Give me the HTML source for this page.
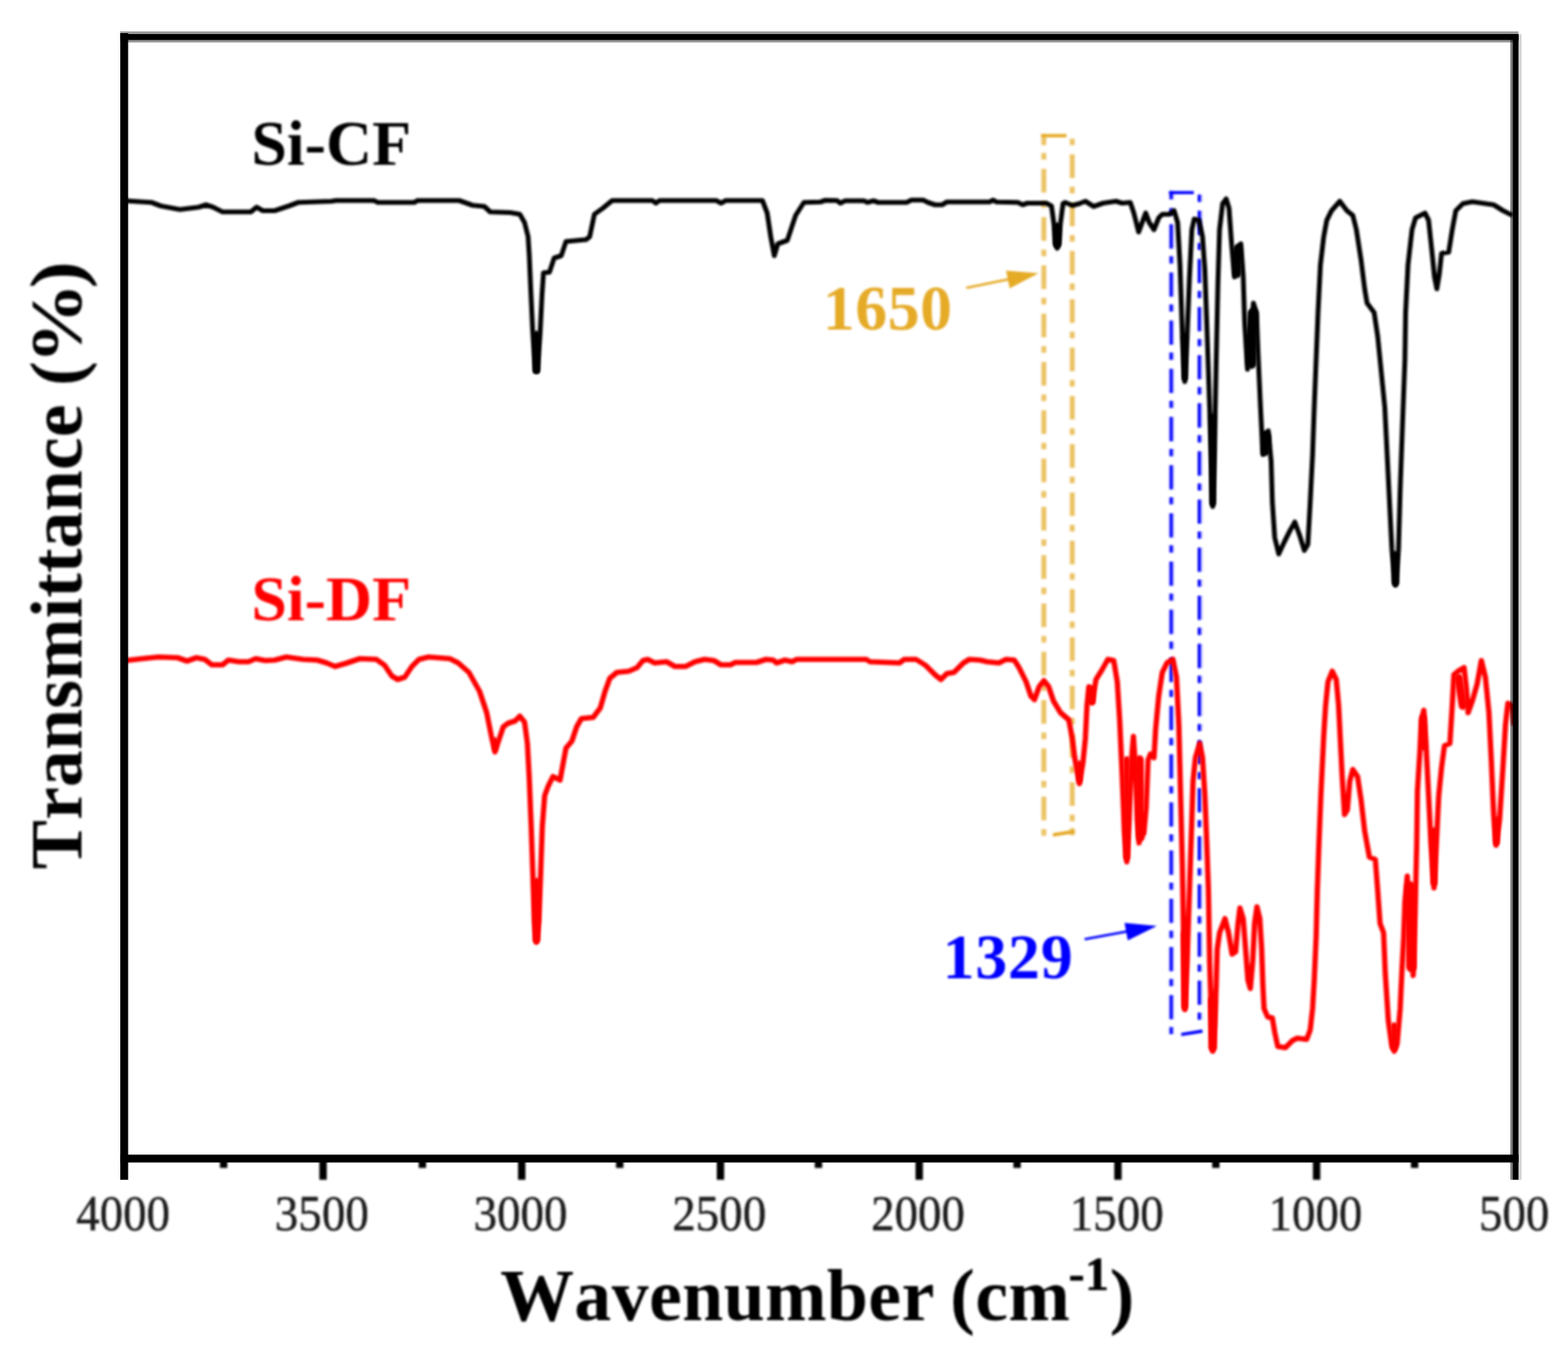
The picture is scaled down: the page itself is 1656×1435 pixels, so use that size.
<!DOCTYPE html>
<html lang="en"><head><meta charset="utf-8"><title>FTIR spectra of Si-CF and Si-DF</title>
<style>
html,body{margin:0;padding:0;background:#fff;}
body{width:1656px;height:1435px;overflow:hidden;}
svg{display:block;}
text{font-family:"Liberation Serif","Times New Roman",serif;font-kerning:none;font-variant-ligatures:none;}
.tick{font-size:51px;fill:#1c1c1c;stroke:#1c1c1c;stroke-width:0.45px;}
.ax{font-size:78px;font-weight:bold;fill:#000;}
.lab{font-size:67.5px;font-weight:bold;}
</style></head><body>
<svg width="1656" height="1435" viewBox="0 0 1656 1435">
<defs><filter id="soft" x="0" y="0" width="1656" height="1435" filterUnits="userSpaceOnUse"><feGaussianBlur stdDeviation="0.9"/></filter></defs>
<rect x="0" y="0" width="1656" height="1435" fill="#fff"/>
<g filter="url(#soft)">
<g fill="none" stroke="#ecc468" stroke-width="5.3">
<path d="M1102.4,141.4V153.2M1102.4,161.6V168.6M1102.4,178.3V203.3M1102.4,212.6V219.6M1102.4,229.3V254.3M1102.4,263.6V270.6M1102.4,280.3V305.3M1102.4,314.6V321.6M1102.4,331.3V356.3M1102.4,365.6V372.6M1102.4,382.3V407.3M1102.4,416.6V423.6M1102.4,433.3V458.3M1102.4,467.6V474.6M1102.4,484.3V509.3M1102.4,518.6V525.6M1102.4,535.3V560.3M1102.4,569.6V576.6M1102.4,586.3V611.3M1102.4,620.6V627.6M1102.4,637.3V662.3M1102.4,671.6V678.6M1102.4,688.3V713.3M1102.4,722.6V729.6M1102.4,739.3V764.3M1102.4,773.6V780.6M1102.4,790.3V815.3M1102.4,824.6V831.6M1102.4,841.3V866.3M1102.4,875.6V882.6"/>
<path d="M1132.4,146.5V153.3M1132.4,163.0V188.0M1132.4,197.3V204.3M1132.4,214.0V239.0M1132.4,248.3V255.3M1132.4,265.0V290.0M1132.4,299.3V306.3M1132.4,316.0V341.0M1132.4,350.3V357.3M1132.4,367.0V392.0M1132.4,401.3V408.3M1132.4,418.0V443.0M1132.4,452.3V459.3M1132.4,469.0V494.0M1132.4,503.3V510.3M1132.4,520.0V545.0M1132.4,554.3V561.3M1132.4,571.0V596.0M1132.4,605.3V612.3M1132.4,622.0V647.0M1132.4,656.3V663.3M1132.4,673.0V698.0M1132.4,707.3V714.3M1132.4,724.0V749.0M1132.4,758.3V765.3M1132.4,775.0V800.0M1132.4,809.3V816.3M1132.4,826.0V851.0M1132.4,860.3V867.3M1132.4,874.5V882.0"/>
</g>
<path d="M1099.5,143.2H1126.4M1112,881.6L1135.2,877.9" stroke="#e5aa27" stroke-width="3.6" fill="none"/>
<g fill="none" stroke="#0000ff">
<path d="M1237.3,201.8V210.6M1237.3,219.7V227.3M1237.3,236.8V262.4M1237.3,270.6V278.2M1237.3,287.7V313.3M1237.3,321.5V329.1M1237.3,338.5V364.1M1237.3,372.3V379.9M1237.3,389.4V415.0M1237.3,423.2V430.8M1237.3,440.3V465.9M1237.3,474.1V481.7M1237.3,491.2V516.8M1237.3,525.0V532.6M1237.3,542.0V567.6M1237.3,575.8V583.4M1237.3,592.9V618.5M1237.3,626.7V634.3M1237.3,643.8V669.4M1237.3,677.6V685.2M1237.3,694.6V720.2M1237.3,728.4V736.0M1237.3,745.5V771.1M1237.3,779.3V786.9M1237.3,796.4V822.0M1237.3,830.2V837.8M1237.3,847.2V872.8M1237.3,881.0V888.6M1237.3,898.1V923.7M1237.3,931.9V939.5M1237.3,949.0V974.6M1237.3,982.8V990.4M1237.3,999.9V1025.5M1237.3,1033.7V1041.2M1237.3,1050.7V1076.3M1237.3,1084.5V1092.1M1267.3,205.6V213.2M1267.3,222.6V248.2M1267.3,256.4V264.0M1267.3,273.4V299.0M1267.3,307.2V314.8M1267.3,324.2V349.8M1267.3,358.0V365.6M1267.3,375.0V400.6M1267.3,408.8V416.4M1267.3,425.8V451.4M1267.3,459.6V467.2M1267.3,476.6V502.2M1267.3,510.4V518.0M1267.3,527.4V553.0M1267.3,561.2V568.8M1267.3,578.2V603.8M1267.3,612.0V619.6M1267.3,629.0V654.6M1267.3,662.8V670.4M1267.3,679.8V705.4M1267.3,713.6V721.2M1267.3,730.6V756.2M1267.3,764.4V772.0M1267.3,781.4V807.0M1267.3,815.2V822.8M1267.3,832.2V857.8M1267.3,866.0V873.6M1267.3,883.0V908.6M1267.3,916.8V924.4M1267.3,933.8V959.4M1267.3,967.6V975.2M1267.3,984.6V1010.2M1267.3,1018.4V1026.0M1267.3,1035.4V1061.0M1267.3,1069.2V1076.8" stroke-width="5.8" stroke-opacity="0.22"/>
<path d="M1236.9,201.8V210.6M1236.9,219.7V227.3M1236.9,236.8V262.4M1236.9,270.6V278.2M1236.9,287.7V313.3M1236.9,321.5V329.1M1236.9,338.5V364.1M1236.9,372.3V379.9M1236.9,389.4V415.0M1236.9,423.2V430.8M1236.9,440.3V465.9M1236.9,474.1V481.7M1236.9,491.2V516.8M1236.9,525.0V532.6M1236.9,542.0V567.6M1236.9,575.8V583.4M1236.9,592.9V618.5M1236.9,626.7V634.3M1236.9,643.8V669.4M1236.9,677.6V685.2M1236.9,694.6V720.2M1236.9,728.4V736.0M1236.9,745.5V771.1M1236.9,779.3V786.9M1236.9,796.4V822.0M1236.9,830.2V837.8M1236.9,847.2V872.8M1236.9,881.0V888.6M1236.9,898.1V923.7M1236.9,931.9V939.5M1236.9,949.0V974.6M1236.9,982.8V990.4M1236.9,999.9V1025.5M1236.9,1033.7V1041.2M1236.9,1050.7V1076.3M1236.9,1084.5V1092.1M1266.6,205.6V213.2M1266.6,222.6V248.2M1266.6,256.4V264.0M1266.6,273.4V299.0M1266.6,307.2V314.8M1266.6,324.2V349.8M1266.6,358.0V365.6M1266.6,375.0V400.6M1266.6,408.8V416.4M1266.6,425.8V451.4M1266.6,459.6V467.2M1266.6,476.6V502.2M1266.6,510.4V518.0M1266.6,527.4V553.0M1266.6,561.2V568.8M1266.6,578.2V603.8M1266.6,612.0V619.6M1266.6,629.0V654.6M1266.6,662.8V670.4M1266.6,679.8V705.4M1266.6,713.6V721.2M1266.6,730.6V756.2M1266.6,764.4V772.0M1266.6,781.4V807.0M1266.6,815.2V822.8M1266.6,832.2V857.8M1266.6,866.0V873.6M1266.6,883.0V908.6M1266.6,916.8V924.4M1266.6,933.8V959.4M1266.6,967.6V975.2M1266.6,984.6V1010.2M1266.6,1018.4V1026.0M1266.6,1035.4V1061.0M1266.6,1069.2V1076.8" stroke-width="3.2"/>
<path d="M1234.6,203.4H1260.8M1247.5,1092.4L1270,1088.8" stroke-width="3.4"/>
</g>
</g>
<g fill="none" stroke="#000" stroke-linejoin="round" filter="url(#soft)"><polyline points="132.5,212 160,213.75 170,217.5 190,221.25 210,218.75 217.5,216.25 225,218.75 235,223.75 265,223.75 271,218.75 277.5,222.5 290,222.5 305,217.5 315,213.75 350,212.5 355,211.75 395,211.75 399,213.75 437.5,213.75 441,211.75 485,211.75 499,216.75 511.5,218 517.75,223.75 539,224.5 549,226.25 554,235 557.75,250 559,270 560.5,305 562.5,347.5 565.5,392 567.5,392 570.5,350 572.5,310 574,288 580.25,287.5 585.25,272.5 592.75,270 597.75,255 619,253 622.75,250 627.75,226.25 636.5,220 646.5,211.75 689,211.75 692.75,214.5 696.5,211.75 756.5,211.75 761.5,214.5 766.5,211.75 805.25,211.75 810.25,225 814,250 817.75,270 821.5,257.5 831.5,253.75 840.25,227.5 849,213.75 866.5,213.25 871.5,211.5 884,211.75 887.5,214.5 892.5,212 912.5,212 916,213.75 922.5,212 927.5,213.75 957.5,213.75 962.5,211.25 975,211.25 980,213.75 987.5,216.25 995,216.25 1000,213.25 1045,213.25 1048.75,211.25 1052.5,213.25 1075,213.75 1080,216.25 1085,214.5 1105,214.5 1110.5,217.5 1113.3,238 1114.6,257 1116.5,262 1118.4,257 1119.7,238 1122.7,215 1125,213.75 1132.5,217 1140,215 1146.25,212.5 1155,218 1165,214.5 1178.75,212.5 1185,214.5 1193.75,213.75 1197.5,225 1202.5,245 1206.25,235 1210,225 1213.75,235 1218.75,242.5 1223.75,230 1227.5,226.25 1235,226.25 1240,222.5 1243.75,235 1246.25,280 1248.75,355 1251.25,403 1253.75,355 1256.25,292.5 1258.75,242.5 1261.25,231.25 1266.25,232.5 1270,250 1272.5,285 1275,355 1277.5,430 1280,505 1280.75,535 1282.5,480 1284.5,380 1286.25,300 1288,242.5 1291.25,215 1295,210 1298,220 1300.5,255 1303.75,292.5 1307.5,260 1310.5,257.5 1313,292.5 1314.5,340 1317.5,390 1320.5,355 1323.75,320 1327,330 1328.75,375 1331.25,430 1333.75,480 1336.25,457.5 1339.5,455 1342.5,487.5 1343.75,530 1346.25,567.5 1350.5,585 1356.25,572.5 1362.5,560 1367.5,551.25 1372.5,565 1377.5,581.25 1381.25,575 1383.75,530 1386.25,480 1388,430 1390,380 1392,330 1394.5,280 1398,250 1401.25,232.5 1406.25,222.5 1415,212.5 1422.5,222.5 1428.75,227.5 1432.5,242.5 1437.5,275 1441.25,305 1443.75,320 1451.25,330 1455,355 1458.75,392.5 1462.5,430 1465,480 1467.5,530 1470,580 1473.75,618 1477,580 1478.75,517.5 1481.25,447.5 1483.75,380 1484.5,330 1487,280 1491.25,242.5 1495,230 1505,225 1508.75,232.5 1512.5,267.5 1515,292.5 1517.5,305 1520,290 1522.5,267.5 1530,266.25 1533.75,242.5 1537.5,222.5 1545,215 1555,213 1577.5,216.25 1587.5,222.5 1597.5,227.5" stroke-width="5.1"/></g>
<g fill="none" stroke="#ff0000" stroke-linejoin="round" filter="url(#soft)"><polyline points="132.5,697.5 155,695 167.5,693.75 187.5,694.5 197.5,698 207.5,694.5 216.25,696.25 223.75,702 235,702 241.25,697 252.5,698.75 262.5,698.75 270,695.5 280,697.5 290,697 302.5,693.75 320,696.25 335,697 345,700 353.75,703.75 365,700.5 380,695.5 397.5,696.25 406.25,702.5 413.75,713.75 420,717.5 427.5,715 435,703.75 442.5,696.25 452.5,693.75 475,695.5 484,700 495.25,710 506.5,730 514,752.5 519,777.5 522.75,794 526.5,782.5 531.5,767.5 536.5,763.75 544,761.25 549,756.25 554,762.5 557,785 559,822.5 561,872.5 562.75,922.5 564.5,972.5 566.5,995 569,972.5 571,922.5 572.75,872.5 575.25,840 579,830 584,820 591.5,823.75 594,810 597.75,790 604,782.5 609,767.5 614,758.75 626.5,757.5 634,747.5 639,730 644,716.25 651.5,710 664,708.75 672.75,705 679,697.5 684,696.25 691.5,700 704,698.75 712.75,703.75 724,703.75 734,698.75 744,696.25 754,697.5 761.5,702 771.5,702 776.5,699.5 799,699.5 809,696.25 816.5,697 820.25,700 829,697 836.5,698.75 841.5,696.25 915,696.25 918.75,698.75 950,700 955,696.25 967.5,696.25 977.5,702.5 987.5,712.5 993.75,717.5 1000,711.25 1007.5,710 1017.5,700 1023.75,696.25 1035,697 1042.5,698.75 1055,700 1062.5,696.25 1071.25,697 1076.25,705 1083.75,720 1088.75,735 1092.5,738.75 1097.5,725 1102.5,718.75 1107.5,725 1112.5,740 1120,752.5 1128.75,760 1132.5,780 1135,800 1140,827.5 1143.75,805 1146.25,780 1148,745 1150,725 1153.75,740 1157.5,717.5 1163.75,707.5 1170,696.25 1176.25,697.5 1180,720 1182.5,760 1185,815 1187.5,877.5 1190,910 1192.5,865 1195,802.5 1197,777.5 1199.5,815 1201.25,865 1203,890 1205,860 1208,880 1210.5,852.5 1212.5,802.5 1215,796.25 1218.75,800 1220.5,770 1223.75,735 1227.5,710 1232.5,700 1238.75,696.25 1242.5,715 1245,765 1246.25,815 1247.5,865 1248.75,915 1250,990 1251.25,1066 1253.75,1015 1256.25,940 1258.75,865 1260,825 1262.5,800 1267,785 1270,800 1272.5,840 1274.5,890 1276.25,940 1277.5,1015 1279.5,1077.5 1280.75,1110 1283,1077.5 1284.5,1040 1285.5,1002.5 1288,985 1293.75,970 1297.5,985 1301.25,1007.5 1305,1005 1307.5,975 1309.5,958.75 1313,970 1315.5,1002.5 1318,1035 1320.5,1043.75 1323,1015 1325,975 1327.5,957.5 1330.5,970 1332.5,1002.5 1333.75,1040 1335,1065 1338.75,1073.75 1343.75,1075 1346.25,1090 1349.5,1105 1357.5,1106.25 1365,1098.75 1370,1096.25 1380,1097.5 1383.75,1087.5 1386.25,1065 1388,1035 1390,990 1391.25,940 1393,890 1395,840 1398,777.5 1400,745 1402.5,720 1407,708.75 1411.25,717.5 1413.75,745 1415.5,780 1417.5,820 1420,860 1423,855 1425.5,825 1428.75,812.5 1433.75,820 1437.5,845 1441.25,877.5 1446.25,905 1452.5,907.5 1455,940 1457.5,975 1461.25,985 1463,1027.5 1466.25,1077.5 1470,1105 1472.5,1110 1475.5,1102.5 1478.75,1065 1480.5,1027.5 1482.5,990 1483.75,952.5 1486.25,925 1488.75,965 1492.5,1030 1494.5,965 1496.25,890 1497,835 1499.5,795 1501.25,760 1503.75,750 1506.25,790 1508.75,840 1511.25,890 1514.5,937.5 1517,890 1519.5,840 1522.5,810 1525.5,787.5 1531.25,785 1533.75,745 1535.5,712.5 1540,708.75 1546.25,705 1548.75,727.5 1550.5,752.5 1555,740 1560,722.5 1564.5,697.5 1568.75,715 1572.5,752.5 1575,802.5 1577.5,860 1580,892.5 1583.75,865 1587,815 1590,765 1592.5,742.5 1597.5,745 1599,766" stroke-width="5.6"/></g>
<g stroke="#000" stroke-linecap="round" filter="url(#soft)"><line x1="1307" y1="263" x2="1306.5" y2="289" stroke-width="9"/><line x1="1323" y1="331" x2="1321.5" y2="384" stroke-width="11"/><line x1="1337.5" y1="461" x2="1336.5" y2="477" stroke-width="9"/><line x1="1251.1" y1="356" x2="1251.25" y2="399" stroke-width="6.5"/><line x1="1280.5" y1="440" x2="1280.75" y2="531" stroke-width="7"/><line x1="1473.6" y1="586" x2="1473.75" y2="615" stroke-width="8"/><line x1="566.5" y1="353" x2="566.5" y2="391" stroke-width="7.5"/><line x1="1116.5" y1="239" x2="1116.5" y2="258" stroke-width="8"/></g>
<g stroke="#ff0000" stroke-linecap="round" filter="url(#soft)"><line x1="566.7" y1="931" x2="566.6" y2="992" stroke-width="8"/><line x1="1251" y1="986" x2="1251.25" y2="1063" stroke-width="7"/><line x1="1280.6" y1="1056" x2="1280.75" y2="1106" stroke-width="9"/><line x1="1190" y1="802" x2="1190" y2="905" stroke-width="7"/><line x1="1203.5" y1="802" x2="1204.5" y2="884" stroke-width="9"/><line x1="1489.5" y1="936" x2="1490.5" y2="1021" stroke-width="11"/><line x1="1514" y1="877" x2="1514.5" y2="932" stroke-width="7"/><line x1="1580.5" y1="866" x2="1580.5" y2="889" stroke-width="7"/><line x1="1472.5" y1="1083" x2="1472.5" y2="1106" stroke-width="7"/><line x1="522.8" y1="781" x2="522.8" y2="791" stroke-width="5"/><line x1="1140" y1="806" x2="1140" y2="824" stroke-width="6"/><line x1="1153" y1="728" x2="1153" y2="741" stroke-width="8"/><line x1="1540.5" y1="716" x2="1545" y2="745" stroke-width="9"/><line x1="1503" y1="758" x2="1503.5" y2="789" stroke-width="7"/></g>
<g filter="url(#soft)">
<line x1="1020.5" y1="304" x2="1068.4" y2="294.3" stroke="#e5aa27" stroke-width="2.6"/><polygon points="1096.8,288.6 1066.3,304.4 1062.6,285.8" fill="#e5aa27"/>
<line x1="1145.5" y1="991.8" x2="1193.3" y2="983.0" stroke="#0000ff" stroke-width="2.6"/><polygon points="1221.8,977.8 1191.1,993.1 1187.6,974.4" fill="#0000ff"/>
</g>
<g fill="none" stroke="#000">
<path d="M126.9,39H1603.6" stroke-width="11.3" stroke-opacity="0.42"/>
<path d="M1596.6,42V1245.8" stroke-width="3" stroke-opacity="0.5"/>
<path d="M1605.2,36.3V1245.8" stroke-width="3.3" stroke-opacity="0.17"/>
<path d="M126.9,39.1H1603.6" stroke-width="6.2"/>
<path d="M1600.7,36.2V1245.8" stroke-width="6"/>
<path d="M131.2,35V1245.8" stroke-width="8.3"/>
<path d="M126.9,1223.3H1603.7" stroke-width="8.2"/>
<path d="M1390.5,1223.3V1245.8M1180.7,1223.3V1245.8M970.8,1223.3V1245.8M760.9,1223.3V1245.8M551.0,1223.3V1245.8M341.2,1223.3V1245.8M1494.0,1223.3V1233.2M1284.1,1223.3V1233.2M1074.2,1223.3V1233.2M864.4,1223.3V1233.2M654.5,1223.3V1233.2M446.1,1223.3V1233.2M236.2,1223.3V1233.2" stroke-width="7.8" filter="url(#soft)"/>
</g>
<g filter="url(#soft)">
<text class="tick" transform="translate(1599.1,1299.1) scale(0.972,1.02)" text-anchor="middle">500</text>
<text class="tick" transform="translate(1389.2,1299.1) scale(0.972,1.02)" text-anchor="middle">1000</text>
<text class="tick" transform="translate(1179.4,1299.1) scale(0.972,1.02)" text-anchor="middle">1500</text>
<text class="tick" transform="translate(969.5,1299.1) scale(0.972,1.02)" text-anchor="middle">2000</text>
<text class="tick" transform="translate(759.6,1299.1) scale(0.972,1.02)" text-anchor="middle">2500</text>
<text class="tick" transform="translate(549.7,1299.1) scale(0.972,1.02)" text-anchor="middle">3000</text>
<text class="tick" transform="translate(339.9,1299.1) scale(0.972,1.02)" text-anchor="middle">3500</text>
<text class="tick" transform="translate(130.0,1299.1) scale(0.972,1.02)" text-anchor="middle">4000</text>
<text class="ax" x="528.2" y="1394" letter-spacing="0.4">Wavenumber <tspan dx="-3.5">(</tspan>cm<tspan font-size="50" dy="-32" dx="-1.5" stroke="#000" stroke-width="0.7">-1</tspan><tspan dy="32" dx="0.6">)</tspan></text>
<text class="ax" transform="translate(86,917.9) rotate(-90)" letter-spacing="0.1">Transmittance (<tspan x="533.4" textLength="85.9" lengthAdjust="spacingAndGlyphs" letter-spacing="0">%</tspan><tspan x="613.4" textLength="28.6" lengthAdjust="spacingAndGlyphs" letter-spacing="0">)</tspan></text>
<text class="lab" x="265.5" y="173.7" fill="#000">Si-CF</text>
<text class="lab" x="265.5" y="654.7" fill="#ff0000">Si-DF</text>
<text class="lab" x="869" y="348" fill="#e5aa27" letter-spacing="0.5">1650</text>
<text class="lab" x="995.5" y="1033" fill="#0000ff" letter-spacing="0.8">1329</text>
</g>
</svg></body></html>
